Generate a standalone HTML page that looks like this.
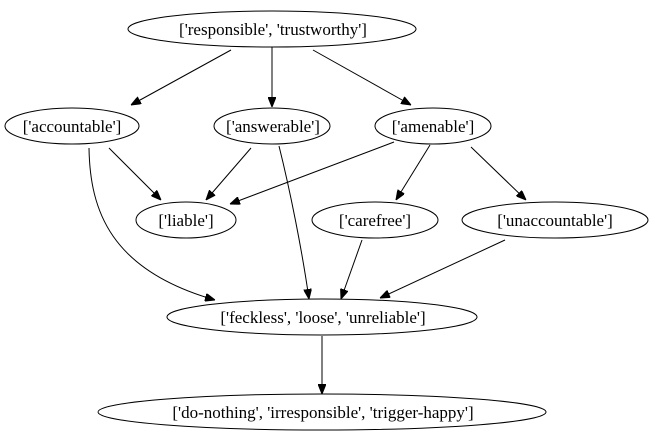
<!DOCTYPE html>
<html><head><meta charset="utf-8"><style>
html,body{margin:0;padding:0;background:#fff;}
svg{display:block;}
text{font-family:"Liberation Serif",serif;font-size:17px;text-anchor:middle;fill:#000;}
ellipse{fill:none;stroke:#000;stroke-width:1;}
path{fill:none;stroke:#000;stroke-width:1;}
</style></head><body>
<svg width="655" height="443" viewBox="0 0 655 443">
<defs><marker id="a" markerWidth="10" markerHeight="8" refX="10" refY="4" orient="auto" markerUnits="userSpaceOnUse">
<polygon points="0,0 10,4 0,8" fill="#000" stroke="#000"/></marker></defs>
<ellipse cx="272" cy="29" rx="144" ry="18"/><text x="273" y="35">['responsible', 'trustworthy']</text>
<ellipse cx="72" cy="126" rx="67" ry="18"/><text x="72" y="132">['accountable']</text>
<ellipse cx="272" cy="126" rx="58" ry="18"/><text x="273" y="132">['answerable']</text>
<ellipse cx="433" cy="126" rx="58" ry="18"/><text x="433" y="132">['amenable']</text>
<ellipse cx="186" cy="220" rx="50" ry="18"/><text x="186" y="226">['liable']</text>
<ellipse cx="375" cy="220" rx="63" ry="18"/><text x="375" y="226">['carefree']</text>
<ellipse cx="555" cy="220" rx="93" ry="18"/><text x="555" y="226">['unaccountable']</text>
<ellipse cx="322" cy="317" rx="155" ry="18"/><text x="323" y="323">['feckless', 'loose', 'unreliable']</text>
<ellipse cx="322" cy="412" rx="224" ry="18"/><text x="323" y="418">['do-nothing', 'irresponsible', 'trigger-happy']</text>
<path marker-end="url(#a)" d="M231,50 L131,105"/>
<path marker-end="url(#a)" d="M272,47 L272,107"/>
<path marker-end="url(#a)" d="M313,50 L411,105"/>
<path marker-end="url(#a)" d="M109,148 L161,200"/>
<path marker-end="url(#a)" d="M251,148 L206,200"/>
<path marker-end="url(#a)" d="M394,142 L230,204"/>
<path marker-end="url(#a)" d="M430,145 L396,200"/>
<path marker-end="url(#a)" d="M471,147 L526,200"/>
<path marker-end="url(#a)" d="M89,148 C90,210 110,270 215,300"/>
<path marker-end="url(#a)" d="M279,146 C290,190 302,250 309,299"/>
<path marker-end="url(#a)" d="M362,240 L341,299"/>
<path marker-end="url(#a)" d="M505,240 L380,298"/>
<path marker-end="url(#a)" d="M322,336 L322,394"/>
</svg>
</body></html>
